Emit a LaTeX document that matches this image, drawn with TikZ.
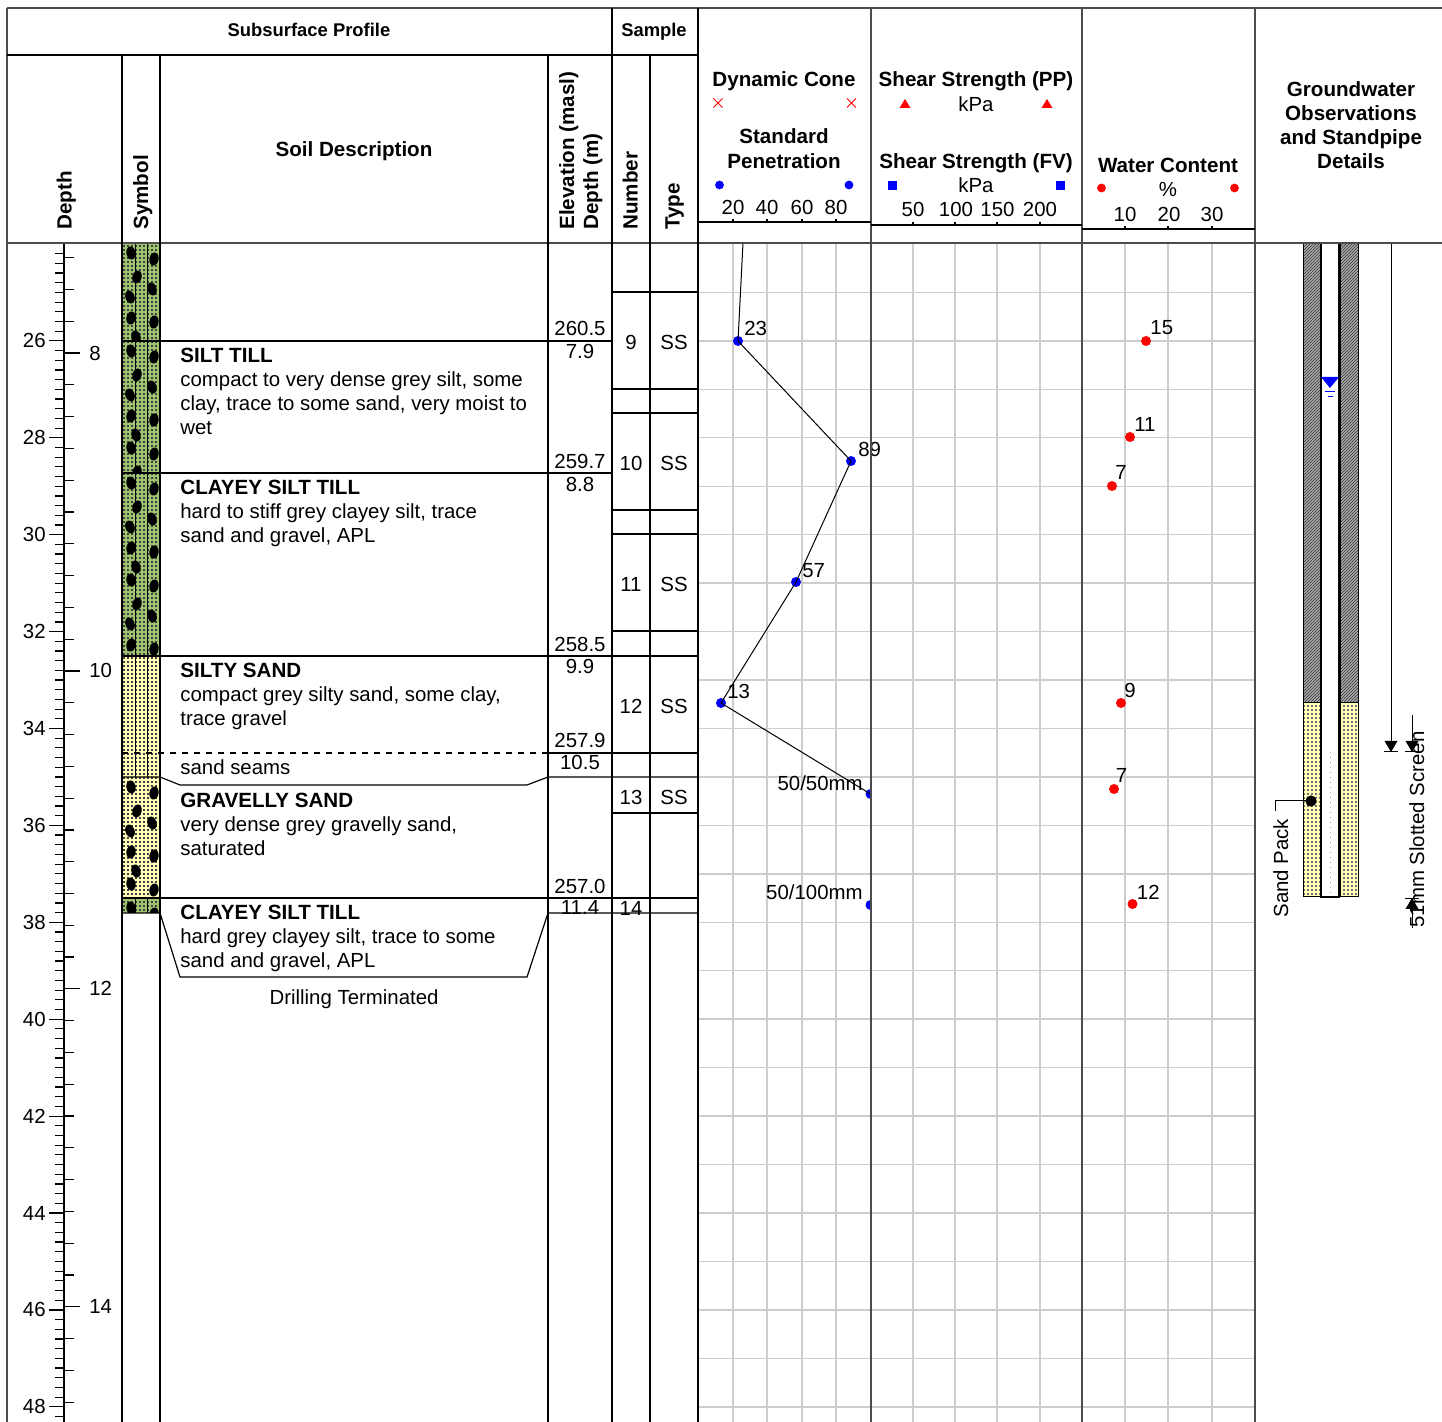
\documentclass[tikz,border=0pt]{standalone}
\usepackage{fontspec}
\setmainfont{Liberation Sans}
\usetikzlibrary{patterns}
\pgfdeclarepatternformonly{finedots}{\pgfqpoint{-1pt}{-1pt}}{\pgfqpoint{1pt}{1pt}}{\pgfqpoint{2pt}{2pt}}{\pgfpathrectangle{\pgfqpoint{-0.28pt}{-0.28pt}}{\pgfqpoint{0.56pt}{0.56pt}}\pgfusepath{fill}}
\pgfdeclarepatternformonly{finehatch}{\pgfqpoint{-1pt}{-1pt}}{\pgfqpoint{2.6pt}{2.6pt}}{\pgfqpoint{1.5pt}{1.5pt}}{\pgfsetlinewidth{0.3pt}\pgfpathmoveto{\pgfqpoint{0pt}{0pt}}\pgfpathlineto{\pgfqpoint{1.6pt}{1.6pt}}\pgfusepath{stroke}}
\definecolor{tillgreen}{RGB}{158,196,112}
\definecolor{sandyellow}{RGB}{255,255,185}
\definecolor{gridgray}{RGB}{205,205,205}
\definecolor{framegray}{RGB}{75,75,75}
\newcommand\soilblobs[2]{%
\begin{scope}
\clip (122.5,#1) rectangle (159.5,#2);
\foreach \k in {0,1,2}{
 \foreach \dy/\bx/\rot in {10/131/10,34/137/-15,54/130/20,75/131/-10,94/136/15,16/154/-12,46/152/18,79/154/-8}{
  \fill[black, rotate around={\rot:(\bx,{#1+97*\k+\dy})}] (\bx,{#1+97*\k+\dy}) ellipse [x radius=4.6, y radius=6.6];
 }}
\end{scope}}
\begin{document}
\begin{tikzpicture}[x=0.5pt,y=-0.5pt,
  tb/.style={font=\fontsize{10.3}{12}\selectfont\bfseries, inner sep=0pt},
  tn/.style={font=\fontsize{10.2}{12}\selectfont, inner sep=0pt},
  ts/.style={font=\fontsize{9.2}{11}\selectfont\bfseries, inner sep=0pt},
  colline/.style={line width=0.6pt, draw=black},
  frame/.style={line width=1.1pt, draw=framegray},
  gridl/.style={line width=0.7pt, draw=gridgray},
  sptdot/.style={circle, fill=blue, inner sep=0pt, minimum size=5pt},
  wcdot/.style={circle, fill=red, inner sep=0pt, minimum size=5pt},
  legdot/.style={circle, inner sep=0pt, minimum size=4.4pt}
]
\useasboundingbox (0,0) rectangle (1442,1422);

% ---------- chart grids ----------
\foreach \k in {1,...,24}{
  \draw[gridl] (698,{244+48.45*\k}) -- (1255,{244+48.45*\k});
}
\foreach \gx in {733,767,802,836,913,955,997,1040,1125,1168,1212}{
  \draw[gridl] (\gx,243) -- (\gx,1422);
}

% ---------- symbol column ----------
\fill[tillgreen] (122,243) rectangle (160,656);
\fill[sandyellow] (122,656) rectangle (160,898);
\fill[tillgreen] (122,898) rectangle (160,913);
\fill[pattern=finedots, pattern color=black!75] (122,243) rectangle (160,913);
\draw[line width=0.5pt] (135,243) -- (135,777) (147,243) -- (147,777)
  (135,898) -- (135,913) (147,898) -- (147,913);
\soilblobs{243}{341}
\soilblobs{341}{473}
\soilblobs{473}{656}
\soilblobs{777}{898}
\soilblobs{898}{913}

% ---------- depth axis ----------
\draw[line width=0.6pt] (64,243) -- (64,1422);
\foreach \i in {1,...,121}{
  \pgfmathtruncatemacro\isMajor{mod(\i,10)==0 ? 1 : 0}
  \ifnum\isMajor=1
    \pgfmathtruncatemacro\ftlab{24+\i/5}
    \draw[line width=0.6pt] (49,{244+9.69*\i}) -- (64,{244+9.69*\i});
    \node[tn, anchor=east] (ft\ftlab) at (46,{244+9.69*\i}) {\ftlab};
  \else
    \draw[line width=0.6pt] (55,{244+9.69*\i}) -- (64,{244+9.69*\i});
  \fi
}
\foreach \j in {0,...,36}{
  \pgfmathtruncatemacro\isMaj{mod(\j,10)==3 ? 1 : 0}
  \ifnum\isMaj=1
    \pgfmathtruncatemacro\mlab{7.4+\j/5+0.01}
    \draw[line width=0.6pt] (64,{257.7+31.79*\j}) -- (80,{257.7+31.79*\j});
    \node[tn, anchor=west] (m\mlab) at (89,{257.7+31.79*\j}) {\mlab};
  \else
    \draw[line width=0.6pt] (64,{257.7+31.79*\j}) -- (74,{257.7+31.79*\j});
  \fi
}

% ---------- description / elevation / sample lines ----------
\draw[colline] (122,341) -- (612,341);
\draw[colline] (122,473) -- (612,473);
\draw[colline] (122,656) -- (698,656);
\draw[colline, dashed] (122,753) -- (548,753);
\draw[colline] (548,753) -- (698,753);
\draw[colline] (122,777) -- (160,777) -- (180,785) -- (527,785) -- (548,777) -- (698,777);
\draw[colline] (122,898) -- (698,898);
\draw[colline] (122,913) -- (160,913) -- (180,977) -- (527,977) -- (548,913) -- (698,913);
\foreach \sy in {292,389,413,510,534,631,813}{
  \draw[colline] (612,\sy) -- (698,\sy);
}

% ---------- SPT plot ----------
\begin{scope}
\clip (698,243) rectangle (871,1422);
\coordinate (sptTop) at (743,243);
\node[sptdot] (s23) at (738,341) {};
\node[sptdot] (s89) at (851,461) {};
\node[sptdot] (s57) at (796,582) {};
\node[sptdot] (s13) at (721,703) {};
\node[sptdot] (s5050) at (870.5,794) {};
\node[sptdot] (s50100) at (870.5,905) {};
\draw[line width=0.5pt] (sptTop) -- (s23.center) -- (s89.center) -- (s57.center) -- (s13.center) -- (s5050.center) -- (s50100.center);
\end{scope}
\node[tn, anchor=base west] (l23) at (744,336) {23};
\node[tn, anchor=base west] (l89) at (858,457) {89};
\node[tn, anchor=base west] (l57) at (802,578) {57};
\node[tn, anchor=base west] (l13) at (727,699) {13};
\node[tn, anchor=base east] (l5050) at (863,791) {50/50mm};
\node[tn, anchor=base east] (l50100) at (863,900) {50/100mm};

% ---------- water content ----------
\node[wcdot] (w15) at (1146,341) {};
\node[wcdot] (w11) at (1130,437) {};
\node[wcdot] (w7a) at (1112,486) {};
\node[wcdot] (w9) at (1121,703) {};
\node[wcdot] (w7b) at (1114,789) {};
\node[wcdot] (w12) at (1132.5,904) {};
\node[tn, anchor=base west] (lw15) at (1150,335) {15};
\node[tn, anchor=base west] (lw11) at (1134,432) {11};
\node[tn, anchor=base west] (lw7a) at (1115,480) {7};
\node[tn, anchor=base west] (lw9) at (1124,698) {9};
\node[tn, anchor=base west] (lw7b) at (1115.5,783) {7};
\node[tn, anchor=base west] (lw12) at (1136.5,900) {12};

% ---------- standpipe ----------
\fill[gray!65] (1303,243) rectangle (1320,703);
\fill[gray!65] (1340,243) rectangle (1358,703);
\fill[pattern=finehatch, pattern color=black!80] (1303,243) rectangle (1320,703);
\fill[pattern=finehatch, pattern color=black!80] (1340,243) rectangle (1358,703);
\fill[sandyellow] (1303,703) rectangle (1320,897);
\fill[sandyellow] (1340,703) rectangle (1358,897);
\fill[pattern=finedots, pattern color=black!55] (1303,703) rectangle (1320,897);
\fill[pattern=finedots, pattern color=black!55] (1340,703) rectangle (1358,897);
\draw[line width=0.5pt] (1303,243) rectangle (1320,897);
\draw[line width=0.5pt] (1340,243) rectangle (1358,897);
\draw[line width=0.5pt] (1303,703) -- (1320,703) (1340,703) -- (1358,703);
\draw[line width=0.8pt] (1321,243) -- (1321,897) -- (1339,897) -- (1339,243);
\draw[gray!70, line width=0.5pt, dotted] (1330,752) -- (1330,893);
% water level
\fill[blue] (1321,377) -- (1339,377) -- (1330,388) -- cycle;
\draw[blue, line width=0.5pt] (1325,392) -- (1335,392) (1327.5,397) -- (1332.5,397);
% sand pack leader
\node[circle, fill=black, inner sep=0pt, minimum size=5.6pt] (spDot) at (1311,801) {};
\coordinate (spBend) at (1275,801);
\node[tn, rotate=90, anchor=base west] (lSand) at (1288,918) {Sand Pack};
\draw[line width=0.5pt] (spDot.center) -- (spBend) -- (1275,811);
% screen dimension arrows
\coordinate (arTop) at (1391,243);
\coordinate (arTip) at (1391,752);
\draw[line width=0.5pt] (arTop) -- (arTip);
\fill[black] (1384.5,741) -- (1397.5,741) -- (1391,752) -- cycle;
\draw[line width=0.5pt] (1384,752) -- (1398,752);
\coordinate (scTopA) at (1412,715);
\coordinate (scTopB) at (1412,752);
\draw[line width=0.5pt] (scTopA) -- (scTopB);
\fill[black] (1405.5,741) -- (1418.5,741) -- (1412,752) -- cycle;
\draw[line width=0.5pt] (1405,752) -- (1419,752);
\coordinate (scBotA) at (1412,928);
\coordinate (scBotB) at (1412,898);
\draw[line width=0.5pt] (scBotA) -- (scBotB);
\fill[black] (1405.5,909) -- (1418.5,909) -- (1412,898) -- cycle;
\draw[line width=0.5pt] (1405,899) -- (1419,899);
\node[tn, rotate=90, anchor=base west] (lScreen) at (1424,928) {51mm Slotted Screen};

% ---------- frame and columns ----------
\draw[frame] (7,8) -- (1442,8);
\draw[frame] (7,8) -- (7,1422);
\draw[colline] (7,55) -- (698,55);
\draw[frame] (7,243) -- (1442,243);
\foreach \cx in {122,160,548,650}{ \draw[colline] (\cx,55) -- (\cx,1422); }
\foreach \cx in {612,698}{ \draw[colline] (\cx,8) -- (\cx,1422); }
\foreach \cx in {871,1082,1255}{ \draw[frame] (\cx,8) -- (\cx,1422); }
% chart header baselines and ticks
\draw[colline] (698,222) -- (871,222);
\draw[colline] (871,225) -- (1082,225);
\draw[colline] (1082,229) -- (1255,229);
\foreach \tx in {733,767,802,836}{ \draw[colline] (\tx,219) -- (\tx,222); }
\foreach \tx in {913,955,997,1040}{ \draw[colline] (\tx,222) -- (\tx,225); }
\foreach \tx in {1125,1168,1212}{ \draw[colline] (\tx,226) -- (\tx,229); }

% ---------- header texts ----------
\node[ts, anchor=base] (hSub) at (309,37) {Subsurface Profile};
\node[ts, anchor=base] (hSam) at (654,37) {Sample};
\node[tb, anchor=base] (hSoil) at (354,157) {Soil Description};
\node[tb, rotate=90, anchor=base west] (hDepth) at (71.5,230) {Depth};
\node[tb, rotate=90, anchor=base west] (hSym) at (148,230) {Symbol};
\node[tb, rotate=90, anchor=base west] (hElev) at (574,230) {Elevation (masl)};
\node[tb, rotate=90, anchor=base west] (hDm) at (598,230) {Depth (m)};
\node[tb, rotate=90, anchor=base west] (hNum) at (637.5,230) {Number};
\node[tb, rotate=90, anchor=base west] (hType) at (679.5,230) {Type};

\node[tb, anchor=base] (hDyn) at (784,87) {Dynamic Cone};
\node[tb, anchor=base] (hStd) at (784,144) {Standard};
\node[tb, anchor=base] (hPen) at (784,169) {Penetration};
\draw[red, line width=0.5pt] (713.5,98.5) -- (722.5,107.5) (713.5,107.5) -- (722.5,98.5);
\draw[red, line width=0.5pt] (847,98.5) -- (856,107.5) (847,107.5) -- (856,98.5);
\node[legdot, fill=blue] (lgS1) at (719.5,185) {};
\node[legdot, fill=blue] (lgS2) at (849,185) {};
\foreach \lx/\lv in {733/20,767/40,802/60,836/80}{ \node[tn, anchor=base] at (\lx,215) {\lv}; }

\node[tb, anchor=base] (hPP) at (976,87) {Shear Strength (PP)};
\node[tn, anchor=base] (hkPa1) at (976,112) {kPa};
\fill[red] (899.5,108) -- (910.5,108) -- (905,99) -- cycle;
\fill[red] (1041.5,108) -- (1052.5,108) -- (1047,99) -- cycle;
\node[tb, anchor=base] (hFV) at (976,169) {Shear Strength (FV)};
\node[tn, anchor=base] (hkPa2) at (976,193) {kPa};
\fill[blue] (888,181) rectangle (897,190);
\fill[blue] (1055.5,181) rectangle (1064.5,190);
\foreach \lx/\lv in {913/50,956/100,997.5/150,1040/200}{ \node[tn, anchor=base] at (\lx,217) {\lv}; }

\node[tb, anchor=base] (hWC) at (1168,173) {Water Content};
\node[tn, anchor=base] (hPct) at (1168,197) {\%};
\node[legdot, fill=red] (lgW1) at (1101.5,188) {};
\node[legdot, fill=red] (lgW2) at (1234.5,188) {};
\foreach \lx/\lv in {1125/10,1169/20,1212/30}{ \node[tn, anchor=base] at (\lx,222) {\lv}; }

\node[tb, anchor=base] (hGW1) at (1351,97) {Groundwater};
\node[tb, anchor=base] (hGW2) at (1351,121) {Observations};
\node[tb, anchor=base] (hGW3) at (1351,145) {and Standpipe};
\node[tb, anchor=base] (hGW4) at (1351,169) {Details};

% ---------- soil descriptions ----------
\node[tb, anchor=base west] (d1t) at (180,362.5) {SILT TILL};
\node[tn, anchor=base west] (d1a) at (180,387) {compact to very dense grey silt, some};
\node[tn, anchor=base west] (d1b) at (180,411) {clay, trace to some sand, very moist to};
\node[tn, anchor=base west] (d1c) at (180,435) {wet};
\node[tb, anchor=base west] (d2t) at (180,494.5) {CLAYEY SILT TILL};
\node[tn, anchor=base west] (d2a) at (180,519) {hard to stiff grey clayey silt, trace};
\node[tn, anchor=base west] (d2b) at (180,543) {sand and gravel, APL};
\node[tb, anchor=base west] (d3t) at (180,677.7) {SILTY SAND};
\node[tn, anchor=base west] (d3a) at (180,702) {compact grey silty sand, some clay,};
\node[tn, anchor=base west] (d3b) at (180,726) {trace gravel};
\node[tn, anchor=base west] (d3c) at (180,775) {sand seams};
\node[tb, anchor=base west] (d4t) at (180,807.7) {GRAVELLY SAND};
\node[tn, anchor=base west] (d4a) at (180,832) {very dense grey gravelly sand,};
\node[tn, anchor=base west] (d4b) at (180,856) {saturated};
\node[tb, anchor=base west] (d5t) at (180,919.3) {CLAYEY SILT TILL};
\node[tn, anchor=base west] (d5a) at (180,943.6) {hard grey clayey silt, trace to some};
\node[tn, anchor=base west] (d5b) at (180,968) {sand and gravel, APL};
\node[tn, anchor=base] (dEnd) at (354,1005) {Drilling Terminated};

% ---------- elevations / depths ----------
\foreach \ey/\ev/\dy/\dv in {336/260.5/358.5/7.9, 469/259.7/491.5/8.8, 651.5/258.5/674/9.9, 748/257.9/770/10.5, 894/257.0/915/11.4}{
  \node[tn, anchor=base] at (580,\ey) {\ev};
  \node[tn, anchor=base] at (580,\dy) {\dv};
}
% ---------- sample numbers ----------
\foreach \ny/\nv in {350/9, 471/10, 592/11, 714/12, 805/13}{
  \node[tn, anchor=base] at (631,\ny) {\nv};
  \node[tn, anchor=base] at (674,\ny) {SS};
}
\node[tn, anchor=base] (n14) at (631,916) {14};
\end{tikzpicture}
\end{document}
